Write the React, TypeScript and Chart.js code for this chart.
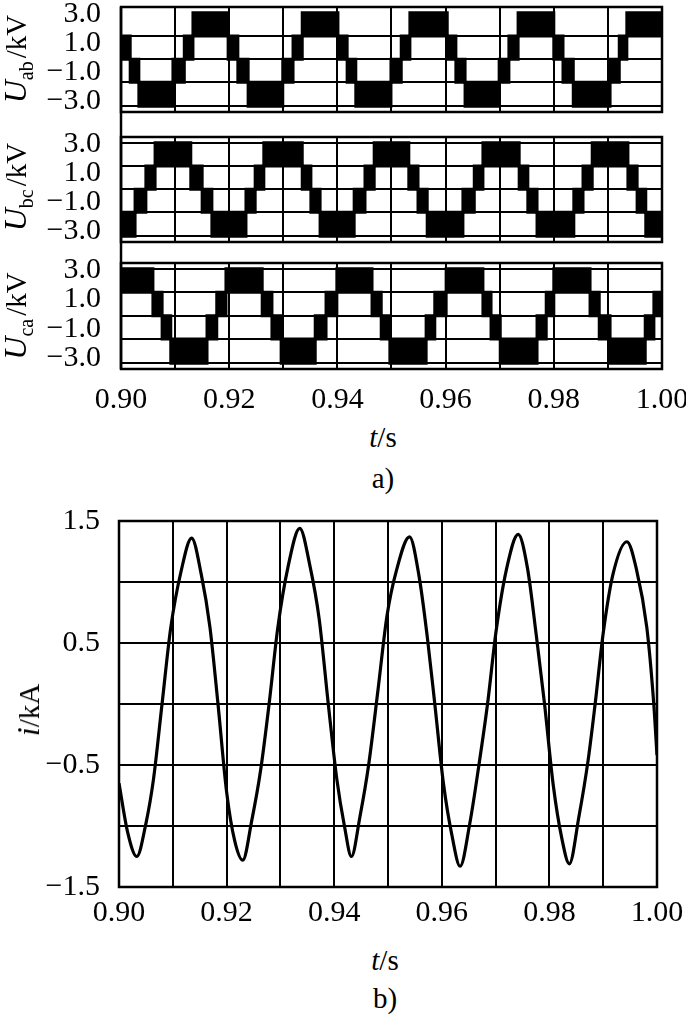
import React, { useEffect, useRef } from 'react';
import { Chart, registerables } from 'chart.js';

Chart.register(...registerables);

// ---------- shared axis data ----------
const timeTicks = [0.9, 0.91, 0.92, 0.93, 0.94, 0.95, 0.96, 0.97, 0.98, 0.99, 1.0];
const timeLabels = ['0.90', '', '0.92', '', '0.94', '', '0.96', '', '0.98', '', '1.00'];

const uTickValues = [-3, -1, 1, 3];
const uTickLabels = ['\u22123.0', '\u22121.0', '1.0', '3.0'];
const uGridUab = [-3.35, -1.7, -0.1, 1.5];
const uGridFull = [-3.35, -1.7, -0.1, 1.5, 3.1];

// ---------- U_ab (kV): segment start times, upper / lower envelope of PWM block ----------
const uabTimes = [0.9, 0.9017, 0.9033, 0.9096, 0.9117, 0.9133, 0.9198, 0.9216, 0.9235, 0.9299, 0.9318, 0.9335, 0.9401, 0.9418, 0.9434, 0.9499, 0.9518, 0.9534, 0.9603, 0.9619, 0.9636, 0.9699, 0.9717, 0.9734, 0.98, 0.9817, 0.9836, 0.9904, 0.9921, 0.9935, 1.0];
const uabHigh = [1.5, -0.1, -1.7, -0.1, 1.5, 3.1, 1.5, -0.1, -1.7, -0.1, 1.5, 3.1, 1.5, -0.1, -1.7, -0.1, 1.5, 3.1, 1.5, -0.1, -1.7, -0.1, 1.5, 3.1, 1.5, -0.1, -1.7, -0.1, 1.5, 3.1];
const uabLow = [-0.1, -1.7, -3.35, -1.7, -0.1, 1.5, -0.1, -1.7, -3.35, -1.7, -0.1, 1.5, -0.1, -1.7, -3.35, -1.7, -0.1, 1.5, -0.1, -1.7, -3.35, -1.7, -0.1, 1.5, -0.1, -1.7, -3.35, -1.7, -0.1, 1.5];

// ---------- U_bc (kV) ----------
const ubcTimes = [0.9, 0.9026, 0.9046, 0.9063, 0.9129, 0.915, 0.9168, 0.9231, 0.9248, 0.9264, 0.9335, 0.9351, 0.9368, 0.9431, 0.9451, 0.9468, 0.9532, 0.9549, 0.9566, 0.9632, 0.9653, 0.9669, 0.9736, 0.9752, 0.9769, 0.9837, 0.9854, 0.9871, 0.9937, 0.9954, 0.997, 1.0];
const ubcHigh = [-1.7, -0.1, 1.5, 3.1, 1.5, -0.1, -1.7, -0.1, 1.5, 3.1, 1.5, -0.1, -1.7, -0.1, 1.5, 3.1, 1.5, -0.1, -1.7, -0.1, 1.5, 3.1, 1.5, -0.1, -1.7, -0.1, 1.5, 3.1, 1.5, -0.1, -1.7];
const ubcLow = [-3.35, -1.7, -0.1, 1.5, -0.1, -1.7, -3.35, -1.7, -0.1, 1.5, -0.1, -1.7, -3.35, -1.7, -0.1, 1.5, -0.1, -1.7, -3.35, -1.7, -0.1, 1.5, -0.1, -1.7, -3.35, -1.7, -0.1, 1.5, -0.1, -1.7, -3.35];

// ---------- U_ca (kV) ----------
const ucaTimes = [0.9, 0.9059, 0.9076, 0.9092, 0.9159, 0.9177, 0.9194, 0.9261, 0.9279, 0.9296, 0.9359, 0.9379, 0.9399, 0.9464, 0.9481, 0.9497, 0.9564, 0.958, 0.9601, 0.9669, 0.9684, 0.9701, 0.9769, 0.9786, 0.98, 0.9867, 0.9884, 0.9904, 0.9969, 0.9985, 1.0];
const ucaHigh = [3.1, 1.5, -0.1, -1.7, -0.1, 1.5, 3.1, 1.5, -0.1, -1.7, -0.1, 1.5, 3.1, 1.5, -0.1, -1.7, -0.1, 1.5, 3.1, 1.5, -0.1, -1.7, -0.1, 1.5, 3.1, 1.5, -0.1, -1.7, -0.1, 1.5];
const ucaLow = [1.5, -0.1, -1.7, -3.35, -1.7, -0.1, 1.5, -0.1, -1.7, -3.35, -1.7, -0.1, 1.5, -0.1, -1.7, -3.35, -1.7, -0.1, 1.5, -0.1, -1.7, -3.35, -1.7, -0.1, 1.5, -0.1, -1.7, -3.35, -1.7, -0.1];

// ---------- current i (kA) ----------
const iTimes = [0.9, 0.9016, 0.9033, 0.905, 0.9064, 0.908, 0.9096, 0.9115, 0.9135, 0.9153, 0.9169, 0.9184, 0.92, 0.9215, 0.923, 0.9247, 0.9263, 0.9279, 0.9295, 0.9314, 0.9336, 0.9355, 0.9372, 0.9389, 0.9405, 0.9419, 0.9432, 0.9448, 0.9464, 0.9481, 0.9498, 0.9516, 0.954, 0.9558, 0.9573, 0.9587, 0.9603, 0.9619, 0.9634, 0.9652, 0.9669, 0.9685, 0.9701, 0.972, 0.9742, 0.9759, 0.9776, 0.9791, 0.9807, 0.9823, 0.9837, 0.9855, 0.9872, 0.9885, 0.99, 0.9918, 0.9944, 0.9962, 0.9981, 0.9994, 1.0];
const iValues = [-0.65, -1.05, -1.25, -0.98, -0.62, 0.0, 0.62, 1.08, 1.36, 1.06, 0.63, 0.0, -0.72, -1.12, -1.28, -0.95, -0.55, 0.0, 0.62, 1.12, 1.44, 1.13, 0.7, 0.0, -0.62, -1.0, -1.25, -0.92, -0.5, 0.1, 0.72, 1.1, 1.37, 1.04, 0.55, 0.0, -0.65, -1.08, -1.33, -0.98, -0.5, 0.0, 0.6, 1.1, 1.39, 1.12, 0.55, 0.0, -0.66, -1.1, -1.31, -0.92, -0.46, 0.0, 0.58, 1.06, 1.33, 1.1, 0.63, 0.0, -0.42];
const iTickValues = [-1.5, -1.0, -0.5, 0, 0.5, 1.0, 1.5];
const iTickLabels = ['\u22121.5', '', '\u22120.5', '', '0.5', '', '1.5'];

const SERIF = "'Liberation Serif', 'Times New Roman', Times, serif";
const tickFont = { family: SERIF, size: 30 };

const framePlugin = {
  id: 'frame',
  afterDatasetsDraw(chart: any, _args: any, opts: any) {
    const { ctx, chartArea: a } = chart;
    ctx.save();
    ctx.strokeStyle = '#000';
    ctx.lineWidth = opts.width || 2.5;
    ctx.strokeRect(a.left, a.top, a.right - a.left, a.bottom - a.top);
    if (opts.spineUp || opts.spineDown) {
      ctx.beginPath();
      ctx.moveTo(a.left, opts.spineUp ? 0 : a.top);
      ctx.lineTo(a.left, opts.spineDown ? chart.height : a.bottom);
      ctx.stroke();
    }
    ctx.restore();
  },
};

function stepPoints(times: number[], values: number[]) {
  const pts = values.map((v, k) => ({ x: times[k], y: v }));
  pts.push({ x: times[times.length - 1], y: values[values.length - 1] });
  return pts;
}

function xScale(showLabels: boolean, height: number, padding: number) {
  return {
    type: 'linear',
    min: 0.9,
    max: 1.0,
    afterBuildTicks: (s: any) => {
      s.ticks = timeTicks.map((v) => ({ value: v }));
    },
    afterFit: (s: any) => {
      s.height = height;
      s.paddingLeft = 0;
      s.paddingRight = 0;
    },
    ticks: {
      display: showLabels,
      autoSkip: false,
      maxRotation: 0,
      padding,
      color: '#000',
      font: tickFont,
      callback: (_v: any, i: number) => timeLabels[i],
    },
    grid: { color: '#000', lineWidth: 2, drawTicks: false },
    border: { display: false },
  };
}

function makePanel(canvas: HTMLCanvasElement, times: number[], hi: number[], lo: number[], grid: number[], cfg: any) {
  const yTicks = [...uTickValues, ...grid].sort((p, q) => p - q);
  return new Chart(canvas, {
    type: 'line',
    data: {
      datasets: [
        { data: stepPoints(times, hi), stepped: true, borderColor: '#000', borderWidth: 3, pointRadius: 0, fill: false },
        { data: stepPoints(times, lo), stepped: true, borderColor: '#000', borderWidth: 3, pointRadius: 0, fill: '-1', backgroundColor: '#000' },
      ],
    },
    options: {
      animation: false,
      responsive: false,
      maintainAspectRatio: false,
      events: [],
      layout: { padding: { left: 0, right: 24, top: cfg.padTop, bottom: cfg.padBottom } },
      plugins: {
        legend: { display: false },
        tooltip: { enabled: false },
        frame: { width: 2.5, spineUp: cfg.spineUp, spineDown: cfg.spineDown },
      },
      scales: {
        x: xScale(cfg.showX, cfg.xHeight, 13),
        y: {
          min: -3.75,
          max: 3.5,
          afterBuildTicks: (s: any) => {
            s.ticks = yTicks.map((v) => ({ value: v }));
          },
          afterFit: (s: any) => {
            s.width = 121;
            s.paddingTop = 0;
            s.paddingBottom = 0;
          },
          ticks: {
            autoSkip: false,
            padding: 20,
            color: '#000',
            font: tickFont,
            callback: (v: any) => {
              const k = uTickValues.indexOf(v);
              return k >= 0 ? uTickLabels[k] : '';
            },
          },
          grid: {
            drawTicks: false,
            lineWidth: 2,
            color: (c: any) => (c.tick && grid.includes(c.tick.value) ? '#000' : 'rgba(0,0,0,0)'),
          },
          border: { display: false },
        },
      },
    } as any,
    plugins: [framePlugin as any],
  });
}

function makeCurrent(canvas: HTMLCanvasElement) {
  return new Chart(canvas, {
    type: 'line',
    data: {
      datasets: [
        {
          data: iTimes.map((t, k) => ({ x: t, y: iValues[k] })),
          borderColor: '#000',
          borderWidth: 3.2,
          pointRadius: 0,
          cubicInterpolationMode: 'monotone',
          fill: false,
        },
      ],
    },
    options: {
      animation: false,
      responsive: false,
      maintainAspectRatio: false,
      events: [],
      layout: { padding: { left: 0, right: 29, top: 21, bottom: 8 } },
      plugins: {
        legend: { display: false },
        tooltip: { enabled: false },
        frame: { width: 2.5 },
      },
      scales: {
        x: xScale(true, 45, 8),
        y: {
          min: -1.5,
          max: 1.5,
          afterBuildTicks: (s: any) => {
            s.ticks = iTickValues.map((v) => ({ value: v }));
          },
          afterFit: (s: any) => {
            s.width = 119;
            s.paddingTop = 0;
            s.paddingBottom = 0;
          },
          ticks: {
            autoSkip: false,
            padding: 19,
            color: '#000',
            font: tickFont,
            callback: (_v: any, i: number) => iTickLabels[i],
          },
          grid: { drawTicks: false, lineWidth: 2, color: '#000' },
          border: { display: false },
        },
      },
    } as any,
    plugins: [framePlugin as any],
  });
}

const textBase: React.CSSProperties = {
  position: 'absolute',
  whiteSpace: 'nowrap',
  fontFamily: SERIF,
  fontSize: 29,
  lineHeight: 1,
  color: '#000',
};

function YTitle({ x, y, sym, sub, unit }: { x: number; y: number; sym: string; sub?: string; unit: string }) {
  return (
    <div style={{ ...textBase, left: x, top: y, transform: 'translate(-50%, -50%) rotate(-90deg)' }}>
      <i style={{ fontSize: 32 }}>{sym}</i>
      {sub ? <span style={{ fontSize: 20, position: 'relative', top: 7, marginRight: 3 }}>{sub}</span> : null}
      <span>/{unit}</span>
    </div>
  );
}

function Centered({ x, y, children }: { x: number; y: number; children: React.ReactNode }) {
  return <div style={{ ...textBase, left: x, top: y, transform: 'translate(-50%, -50%)' }}>{children}</div>;
}

export default function App() {
  const refA = useRef<HTMLCanvasElement>(null);
  const refB = useRef<HTMLCanvasElement>(null);
  const refC = useRef<HTMLCanvasElement>(null);
  const refD = useRef<HTMLCanvasElement>(null);

  useEffect(() => {
    const charts = [
      makePanel(refA.current!, uabTimes, uabHigh, uabLow, uGridUab, { padTop: 7, padBottom: 13, xHeight: 0, showX: false, spineUp: false, spineDown: true }),
      makePanel(refB.current!, ubcTimes, ubcHigh, ubcLow, uGridFull, { padTop: 12, padBottom: 8, xHeight: 0, showX: false, spineUp: true, spineDown: true }),
      makePanel(refC.current!, ucaTimes, ucaHigh, ucaLow, uGridFull, { padTop: 13, padBottom: 0, xHeight: 41, showX: true, spineUp: true, spineDown: false }),
      makeCurrent(refD.current!),
    ];
    return () => charts.forEach((c) => c.destroy());
  }, []);

  const cv = (top: number, h: number): React.CSSProperties => ({ position: 'absolute', left: 0, top, width: 686, height: h, display: 'block' });

  return (
    <div style={{ position: 'absolute', left: 0, top: 0, width: 686, height: 1014, background: '#fff', overflow: 'hidden' }}>
      <canvas ref={refA} width={686} height={125} style={cv(0, 125)} />
      <canvas ref={refB} width={686} height={125} style={cv(125, 125)} />
      <canvas ref={refC} width={686} height={160} style={cv(250, 160)} />
      <canvas ref={refD} width={686} height={440} style={cv(500, 440)} />

      <YTitle x={15} y={59} sym="U" sub="ab" unit="kV" />
      <YTitle x={15} y={187} sym="U" sub="bc" unit="kV" />
      <YTitle x={15} y={316} sym="U" sub="ca" unit="kV" />
      <YTitle x={28} y={710} sym="i" unit="kA" />

      <Centered x={383} y={437}>
        <i>t</i>/s
      </Centered>
      <Centered x={383} y={478}>a)</Centered>
      <Centered x={385} y={960}>
        <i>t</i>/s
      </Centered>
      <Centered x={385} y={998}>b)</Centered>
    </div>
  );
}
